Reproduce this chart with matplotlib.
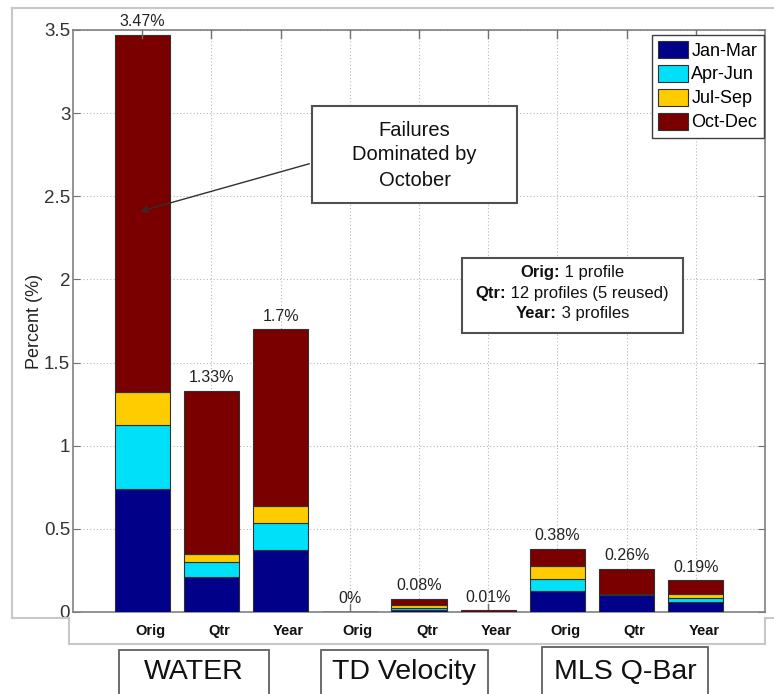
import matplotlib
matplotlib.use("Agg")
import matplotlib.pyplot as plt
from matplotlib.patches import Rectangle
from matplotlib.lines import Line2D
import matplotlib.transforms as mtransforms

plt.rcParams['font.family'] = ['Liberation Sans', 'DejaVu Sans']

# ---- data ----
groups = ['WATER', 'TD Velocity', 'MLS Q-Bar']
methods = ['Orig', 'Qtr', 'Year']
seasons = ['Jan-Mar', 'Apr-Jun', 'Jul-Sep', 'Oct-Dec']
jan_mar = [0.74, 0.21, 0.375, 0.0, 0.015, 0.0, 0.125, 0.10, 0.06]
apr_jun = [0.385, 0.09, 0.16, 0.0, 0.012, 0.0, 0.075, 0.01, 0.025]
jul_sep = [0.20, 0.05, 0.10, 0.0, 0.018, 0.0, 0.075, 0.0, 0.025]
oct_dec = [2.145, 0.98, 1.065, 0.0, 0.035, 0.01, 0.105, 0.15, 0.08]
total_labels = ['3.47%', '1.33%', '1.7%', '0%', '0.08%', '0.01%', '0.38%', '0.26%', '0.19%']
y_ticks = [0, 0.5, 1, 1.5, 2, 2.5, 3, 3.5]
y_ticklabels = ['0', '0.5', '1', '1.5', '2', '2.5', '3', '3.5']
info_bold = ['Orig:', 'Qtr:', 'Year:']
info_rest = [' 1 profile', ' 12 profiles (5 reused)', ' 3 profiles']

colors = ['#000088', '#00E0F8', '#FFCC00', '#7A0000']

W, H = 774, 694
fig = plt.figure(figsize=(W / 100, H / 100), dpi=100)


def fx(x):
    return x / W


def fy(y):
    return 1 - y / H


ax = fig.add_axes([fx(73), fy(612), fx(765) - fx(73), fy(30) - fy(612)])

positions = list(range(1, len(jan_mar) + 1))
bottom = [0.0] * len(positions)
series = [jan_mar, apr_jun, jul_sep, oct_dec]
for vals, col, name in zip(series, colors, seasons):
    ax.bar(positions, vals, width=0.8, bottom=bottom, color=col,
           edgecolor='#303030', linewidth=0.8, label=name, zorder=3)
    bottom = [b + v for b, v in zip(bottom, vals)]

for p, tot, lab in zip(positions, bottom, total_labels):
    ax.annotate(lab, (p, tot), xytext=(0, 4), textcoords='offset points',
                ha='center', va='bottom', fontsize=11.5, color='#222222', zorder=5)

ax.set_xlim(0, 10)
ax.set_ylim(0, 3.5)
ax.set_yticks(y_ticks)
ax.set_yticklabels(y_ticklabels)
ax.set_xticks(positions)
ax.set_xticklabels([])

# method labels under each bar (slightly shifted, as in the original)
lab_trans = mtransforms.blended_transform_factory(ax.transData, ax.transAxes) + \
    mtransforms.ScaledTranslation(8 / 100, 0, fig.dpi_scale_trans)
for p, m in zip(positions, methods * len(groups)):
    ax.text(p, -(631 - 612) / (612 - 30), m, transform=lab_trans, ha='center', va='center',
            fontsize=10.5, fontweight='bold', color='#111111', clip_on=False)

ax.tick_params(axis='both', direction='in', top=True, right=True, color='#707070',
               length=5)
ax.tick_params(axis='x', length=0)
ax.tick_params(axis='y', labelsize=13.5, labelcolor='#333333', pad=2)
for p in positions:
    ax.plot([p, p], [3.5, 3.5 - 0.05], color='#707070', lw=1, zorder=4, clip_on=False)
    ax.plot([p, p], [0, 0.05], color='#707070', lw=1, zorder=2)

for s in ax.spines.values():
    s.set_color('#808080')
    s.set_linewidth(1.2)

ax.grid(True, linestyle=(0, (1, 2)), color='#b8b8b8', linewidth=0.8, zorder=0)
ax.set_axisbelow(True)

ax.set_ylabel('Percent (%)', fontsize=13, color='#222222', labelpad=1)

leg = ax.legend(loc='upper right', bbox_to_anchor=(0.998, 0.992), borderaxespad=0,
                fontsize=13, handlelength=1.65, handleheight=1.05, labelspacing=0.3,
                handletextpad=0.2, borderpad=0.35, fancybox=False, framealpha=1)
leg.get_frame().set_edgecolor('#404040')
leg.get_frame().set_linewidth(1.0)

# annotation box: Failures Dominated by October
ax.add_patch(Rectangle((fx(312), fy(203)), fx(517) - fx(312), fy(106) - fy(203),
                       transform=fig.transFigure, facecolor='white', edgecolor='#505050',
                       linewidth=1.5, zorder=6))
fig.text(fx(414.5), fy(155), 'Failures\nDominated by\nOctober', ha='center', va='center',
         fontsize=14.5, linespacing=1.4, color='#111111', zorder=7)
ax.annotate('', xy=(fx(138), fy(212)), xycoords='figure fraction',
            xytext=(fx(312), fy(163)), textcoords='figure fraction',
            arrowprops=dict(arrowstyle='->', color='#303030', lw=1.0), zorder=7)

# info box
ax.add_patch(Rectangle((fx(462), fy(333)), fx(683) - fx(462), fy(258) - fy(333),
                       transform=fig.transFigure, facecolor='white', edgecolor='#505050',
                       linewidth=1.5, zorder=6))
renderer = fig.canvas.get_renderer()
for i, (b, r) in enumerate(zip(info_bold, info_rest)):
    yy = fy(273 + 20.5 * i)
    tb = fig.text(0, yy, b, ha='left', va='center', fontsize=12, fontweight='bold',
                  color='#111111', zorder=7)
    tr = fig.text(0, yy, r, ha='left', va='center', fontsize=12,
                  color='#111111', zorder=7)
    wb = tb.get_window_extent(renderer).width
    wr = tr.get_window_extent(renderer).width
    x0 = 572.5 - (wb + wr) / 2
    tb.set_x(fx(x0))
    tr.set_x(fx(x0 + wb))

# outer frame lines (light gray)
frame_col = '#c8c8c8'
segs = [((12, 8), (774, 8)), ((12, 8), (12, 618)), ((12, 618), (69, 618)),
        ((69, 618), (69, 644)), ((69, 644), (765, 644)), ((765, 644), (765, 618)),
        ((765, 618), (774, 618))]
for (x0, y0), (x1, y1) in segs:
    fig.add_artist(Line2D([fx(x0), fx(x1)], [fy(y0), fy(y1)], color=frame_col, lw=1.5,
                          transform=fig.transFigure))

# group boxes
group_boxes = [(119, 269, 650), (321, 488, 650), (542, 708, 647)]
for name, (x0, x1, y0) in zip(groups, group_boxes):
    fig.add_artist(Rectangle((fx(x0), fy(H + 5)), fx(x1) - fx(x0), fy(y0) - fy(H + 5),
                             transform=fig.transFigure, facecolor='white',
                             edgecolor='#606060', linewidth=1.3))
    fig.text(fx((x0 + x1) / 2), fy(672), name, ha='center', va='center',
             fontsize=20.5, color='#111111')

fig.savefig('out.png', dpi=100)
